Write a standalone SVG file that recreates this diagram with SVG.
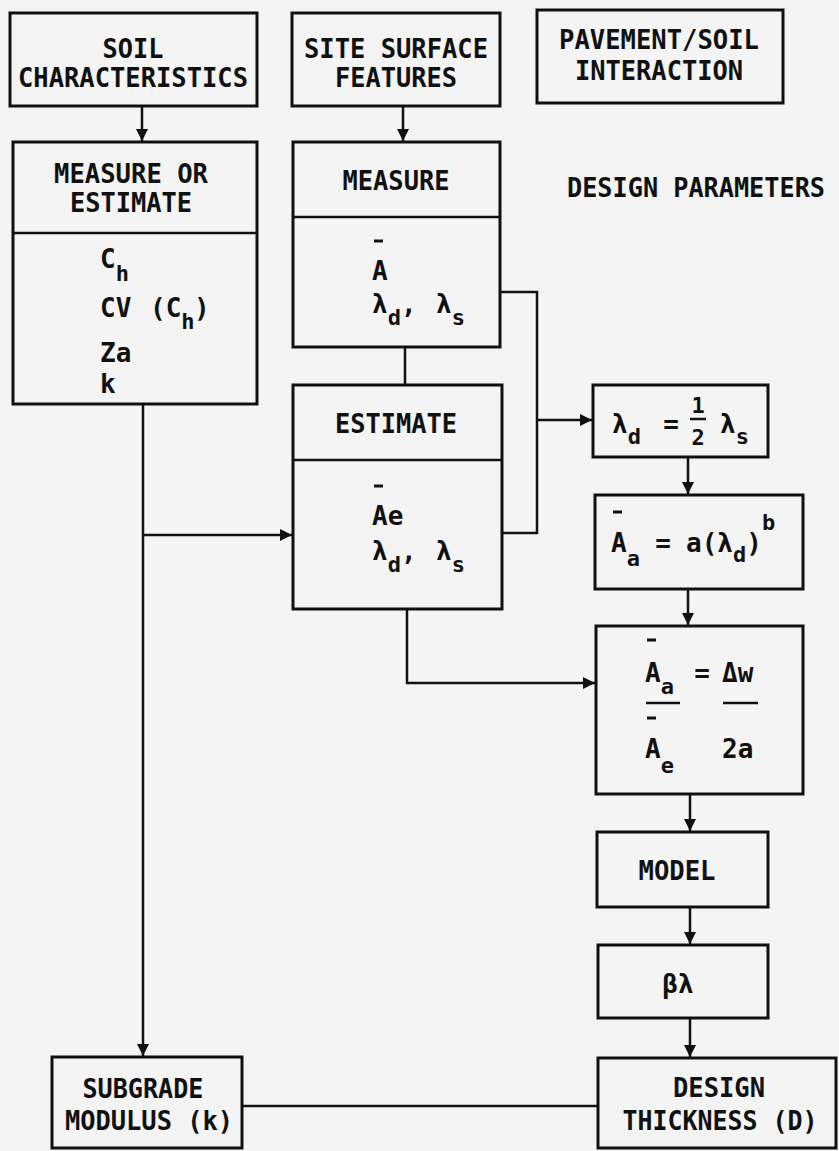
<svg xmlns="http://www.w3.org/2000/svg" width="839" height="1151" viewBox="0 0 839 1151">
<style>
.bg{fill:#f4f4f4}
.box{fill:none;stroke:#111;stroke-width:3}
.ln{fill:none;stroke:#111;stroke-width:2.5}
.bar{stroke:#111;stroke-width:2.5}
.ob{stroke:#111;stroke-width:3}
.t{font-family:"DejaVu Sans Mono","Liberation Mono",monospace;font-weight:bold;font-size:26px;fill:#111}
.L{font-size:26px}
.c{text-anchor:middle}
.s{font-size:22px}
.f{font-size:22px}
</style>
<defs>
<marker id="ah" viewBox="0 0 12 12" refX="12" refY="6" markerWidth="12" markerHeight="12" orient="auto" markerUnits="userSpaceOnUse"><path d="M0,0 L12,6 L0,12 z" fill="#111"/></marker>
</defs>
<rect class="bg" x="0" y="0" width="839" height="1151"/>

<g id="connectors">
<path class="ln" d="M142,106 V141" marker-end="url(#ah)"/>
<path class="ln" d="M403,106 V141" marker-end="url(#ah)"/>
<path class="ln" d="M500,292 H537 V533 H502"/>
<path class="ln" d="M537,420 H592" marker-end="url(#ah)"/>
<path class="ln" d="M405,347 V385"/>
<path class="ln" d="M143,404 V1056" marker-end="url(#ah)"/>
<path class="ln" d="M143,535 H292" marker-end="url(#ah)"/>
<path class="ln" d="M407,609 V683 H595" marker-end="url(#ah)"/>
<path class="ln" d="M688,457 V494" marker-end="url(#ah)"/>
<path class="ln" d="M688,589 V625" marker-end="url(#ah)"/>
<path class="ln" d="M690,794 V831" marker-end="url(#ah)"/>
<path class="ln" d="M690,907 V944" marker-end="url(#ah)"/>
<path class="ln" d="M690,1018 V1057" marker-end="url(#ah)"/>
<path class="ln" d="M242,1106 H598"/>
</g>

<g id="soil">
<rect class="box" x="10" y="13" width="247" height="93"/>
<text class="t L c" x="133" y="58" textLength="61" lengthAdjust="spacingAndGlyphs">SOIL</text>
<text class="t L c" x="133" y="87" textLength="230" lengthAdjust="spacingAndGlyphs">CHARACTERISTICS</text>
</g>

<g id="site">
<rect class="box" x="292" y="13" width="208" height="93"/>
<text class="t L c" x="396" y="58" textLength="184" lengthAdjust="spacingAndGlyphs">SITE SURFACE</text>
<text class="t L c" x="396" y="87" textLength="122" lengthAdjust="spacingAndGlyphs">FEATURES</text>
</g>

<g id="pavement">
<rect class="box" x="537" y="10" width="246" height="93"/>
<text class="t L c" x="659" y="49" textLength="200" lengthAdjust="spacingAndGlyphs">PAVEMENT/SOIL</text>
<text class="t L c" x="659" y="80" textLength="168" lengthAdjust="spacingAndGlyphs">INTERACTION</text>
</g>

<g id="design-parameters">
<text class="t L c" x="696" y="197" textLength="258" lengthAdjust="spacingAndGlyphs">DESIGN PARAMETERS</text>
</g>

<g id="measure-estimate">
<rect class="box" x="13" y="142" width="244" height="262"/>
<line class="bar" x1="13" y1="233" x2="257" y2="233"/>
<text class="t L c" x="131" y="183" textLength="154" lengthAdjust="spacingAndGlyphs">MEASURE OR</text>
<text class="t L c" x="131" y="212" textLength="122" lengthAdjust="spacingAndGlyphs">ESTIMATE</text>
<text class="t" x="100" y="268">C<tspan class="s" dy="13">h</tspan></text>
<text class="t" x="100" y="317">CV<tspan x="150">(C</tspan><tspan class="s" dy="12">h</tspan><tspan dy="-12" x="194">)</tspan></text>
<text class="t" x="100" y="362">Za</text>
<text class="t" x="100" y="393">k</text>
</g>

<g id="measure">
<rect class="box" x="293" y="142" width="207" height="205"/>
<line class="bar" x1="293" y1="217" x2="500" y2="217"/>
<text class="t L c" x="396" y="190" textLength="107" lengthAdjust="spacingAndGlyphs">MEASURE</text>
<line class="ob" x1="374" y1="241" x2="383" y2="241"/>
<text class="t" x="372" y="280">A</text>
<text class="t" x="372" y="313">λ<tspan class="s" dy="12">d</tspan><tspan dy="-12">,</tspan><tspan x="436">λ</tspan><tspan class="s" dy="12">s</tspan></text>
</g>

<g id="estimate">
<rect class="box" x="293" y="385" width="209" height="224"/>
<line class="bar" x1="293" y1="460" x2="502" y2="460"/>
<text class="t L c" x="396" y="433" textLength="122" lengthAdjust="spacingAndGlyphs">ESTIMATE</text>
<line class="ob" x1="374" y1="486" x2="383" y2="486"/>
<text class="t" x="372" y="525">Ae</text>
<text class="t" x="372" y="560">λ<tspan class="s" dy="12">d</tspan><tspan dy="-12">,</tspan><tspan x="436">λ</tspan><tspan class="s" dy="12">s</tspan></text>
</g>

<g id="lambda-ratio">
<rect class="box" x="593" y="385" width="175" height="72"/>
<text class="t" x="612" y="433">λ<tspan class="s" dy="11">d</tspan></text>
<text class="t c" x="671" y="433">=</text>
<text class="t c f" x="698" y="413">1</text>
<line class="bar" x1="690" y1="419" x2="706" y2="419" stroke-width="2"/>
<text class="t c f" x="698" y="445">2</text>
<text class="t" x="720" y="433">λ<tspan class="s" dy="11">s</tspan></text>
</g>

<g id="area-a">
<rect class="box" x="595" y="495" width="208" height="94"/>
<line class="ob" x1="613" y1="512" x2="622" y2="512"/>
<text class="t" x="611" y="552">A<tspan class="s" dy="14">a</tspan></text>
<text class="t c" x="663" y="552">=</text>
<text class="t" x="686" y="552">a(λ<tspan class="s" dy="10">d</tspan><tspan dy="-10">)</tspan><tspan class="s" dy="-22">b</tspan></text>
</g>

<g id="area-ratio">
<rect class="box" x="596" y="626" width="207" height="168"/>
<line class="ob" x1="647" y1="640" x2="656" y2="640"/>
<text class="t" x="645" y="682">A<tspan class="s" dy="12">a</tspan></text>
<line class="bar" x1="646" y1="703" x2="680" y2="703"/>
<text class="t c" x="702" y="682">=</text>
<text class="t" x="722" y="682">Δw</text>
<line class="bar" x1="723" y1="703" x2="758" y2="703"/>
<line class="ob" x1="647" y1="718" x2="656" y2="718"/>
<text class="t" x="645" y="758">A<tspan class="s" dy="15">e</tspan></text>
<text class="t" x="722" y="758">2a</text>
</g>

<g id="model">
<rect class="box" x="597" y="832" width="171" height="75"/>
<text class="t L c" x="677" y="880" textLength="77" lengthAdjust="spacingAndGlyphs">MODEL</text>
</g>

<g id="beta-lambda">
<rect class="box" x="598" y="945" width="170" height="73"/>
<text class="t c" x="678" y="993">βλ</text>
</g>

<g id="design-thickness">
<rect class="box" x="598" y="1058" width="238" height="90"/>
<text class="t L c" x="719" y="1097" textLength="92" lengthAdjust="spacingAndGlyphs">DESIGN</text>
<text class="t L c" x="720" y="1130" textLength="195" lengthAdjust="spacingAndGlyphs">THICKNESS (D)</text>
</g>

<g id="subgrade">
<rect class="box" x="52" y="1057" width="190" height="91"/>
<text class="t L c" x="143" y="1098" textLength="121" lengthAdjust="spacingAndGlyphs">SUBGRADE</text>
<text class="t L c" x="149" y="1130" textLength="168" lengthAdjust="spacingAndGlyphs">MODULUS (k)</text>
</g>
</svg>
